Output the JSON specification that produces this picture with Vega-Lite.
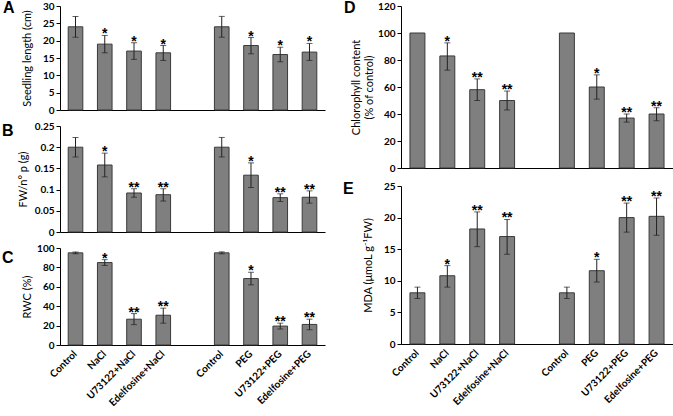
{
  "$schema": "https://vega.github.io/schema/vega-lite/v6.json",
  "background": "white",
  "padding": {"left": 2, "top": 0, "right": 0, "bottom": 0},
  "config": {
    "view": {"stroke": null},
    "font": "Lato",
    "axis": {"grid": false, "labelFont": "Lato", "labelFontWeight": "bold", "labelFontSize": 10, "labelColor": "black", "labelOverlap": false, "labelFlush": false, "labelSeparation": 0, "titleFont": "Lato", "titleFontWeight": "normal", "titleFontSize": 11, "titleColor": "black", "domainColor": "black", "tickColor": "black", "tickSize": 4, "labelPadding": 2},
    "axisY": {"titleBaseline": "middle", "titleAngle": 270},
    "title": {"font": "Liberation Sans", "fontSize": 16, "fontWeight": "bold", "color": "black", "anchor": "start", "frame": "group", "offset": 0, "baseline": "alphabetic"}
  },
  "datasets": {
    "d": [
      {"panel": "A", "slot": 1, "mean": 24, "lo": 21, "hi": 27, "sig": ""},
      {"panel": "A", "slot": 2, "mean": 19, "lo": 16.5, "hi": 21.5, "sig": "*"},
      {"panel": "A", "slot": 3, "mean": 17, "lo": 14.6, "hi": 19.4, "sig": "*"},
      {"panel": "A", "slot": 4, "mean": 16.5, "lo": 14.3, "hi": 18.6, "sig": "*"},
      {"panel": "A", "slot": 6, "mean": 24, "lo": 21, "hi": 27, "sig": ""},
      {"panel": "A", "slot": 7, "mean": 18.6, "lo": 16.2, "hi": 20.9, "sig": "*"},
      {"panel": "A", "slot": 8, "mean": 16, "lo": 13.9, "hi": 18.1, "sig": "*"},
      {"panel": "A", "slot": 9, "mean": 16.7, "lo": 14.3, "hi": 19.2, "sig": "*"},
      {"panel": "B", "slot": 1, "mean": 0.2, "lo": 0.177, "hi": 0.223, "sig": ""},
      {"panel": "B", "slot": 2, "mean": 0.158, "lo": 0.13, "hi": 0.186, "sig": "*"},
      {"panel": "B", "slot": 3, "mean": 0.092, "lo": 0.082, "hi": 0.102, "sig": "**"},
      {"panel": "B", "slot": 4, "mean": 0.088, "lo": 0.073, "hi": 0.102, "sig": "**"},
      {"panel": "B", "slot": 6, "mean": 0.2, "lo": 0.177, "hi": 0.223, "sig": ""},
      {"panel": "B", "slot": 7, "mean": 0.134, "lo": 0.105, "hi": 0.163, "sig": "*"},
      {"panel": "B", "slot": 8, "mean": 0.081, "lo": 0.072, "hi": 0.09, "sig": "**"},
      {"panel": "B", "slot": 9, "mean": 0.082, "lo": 0.068, "hi": 0.097, "sig": "**"},
      {"panel": "C", "slot": 1, "mean": 95, "lo": 94, "hi": 96, "sig": ""},
      {"panel": "C", "slot": 2, "mean": 85, "lo": 82, "hi": 88, "sig": "*"},
      {"panel": "C", "slot": 3, "mean": 26.6, "lo": 21, "hi": 32.4, "sig": "**"},
      {"panel": "C", "slot": 4, "mean": 30.7, "lo": 22.5, "hi": 38, "sig": "**"},
      {"panel": "C", "slot": 6, "mean": 95, "lo": 94, "hi": 96, "sig": ""},
      {"panel": "C", "slot": 7, "mean": 68.5, "lo": 62, "hi": 75, "sig": "*"},
      {"panel": "C", "slot": 8, "mean": 19.5, "lo": 16.5, "hi": 22.5, "sig": "**"},
      {"panel": "C", "slot": 9, "mean": 21.2, "lo": 15.7, "hi": 26.6, "sig": "**"},
      {"panel": "D", "slot": 1, "mean": 100, "lo": null, "hi": null, "sig": ""},
      {"panel": "D", "slot": 2, "mean": 83, "lo": 72.5, "hi": 92.7, "sig": "*"},
      {"panel": "D", "slot": 3, "mean": 58, "lo": 50, "hi": 66, "sig": "**"},
      {"panel": "D", "slot": 4, "mean": 50, "lo": 43, "hi": 57, "sig": "**"},
      {"panel": "D", "slot": 6, "mean": 100, "lo": null, "hi": null, "sig": ""},
      {"panel": "D", "slot": 7, "mean": 60, "lo": 51, "hi": 69, "sig": "*"},
      {"panel": "D", "slot": 8, "mean": 37, "lo": 34, "hi": 40, "sig": "**"},
      {"panel": "D", "slot": 9, "mean": 40, "lo": 35, "hi": 44.7, "sig": "**"},
      {"panel": "E", "slot": 1, "mean": 8.1, "lo": 7.2, "hi": 9.0, "sig": ""},
      {"panel": "E", "slot": 2, "mean": 10.8, "lo": 9.0, "hi": 12.4, "sig": "*"},
      {"panel": "E", "slot": 3, "mean": 18.2, "lo": 15.4, "hi": 20.9, "sig": "**"},
      {"panel": "E", "slot": 4, "mean": 17.0, "lo": 14.2, "hi": 19.7, "sig": "**"},
      {"panel": "E", "slot": 6, "mean": 8.1, "lo": 7.2, "hi": 9.0, "sig": ""},
      {"panel": "E", "slot": 7, "mean": 11.6, "lo": 9.8, "hi": 13.4, "sig": "*"},
      {"panel": "E", "slot": 8, "mean": 20.0, "lo": 17.7, "hi": 22.3, "sig": "**"},
      {"panel": "E", "slot": 9, "mean": 20.2, "lo": 17.2, "hi": 23.1, "sig": "**"}
    ]
  },
  "spacing": 18,
  "hconcat": [
    {
      "bounds": "flush",
      "spacing": 16,
      "vconcat": [
        {
          "width": 265, "height": 104,
          "title": {"text": "A", "dx": -57, "dy": 19},
          "data": {"name": "d"},
          "transform": [{"filter": "datum.panel === 'A'"}],
          "encoding": {
            "x": {"field": "slot", "type": "ordinal", "scale": {"domain": [1,2,3,4,5,6,7,8,9], "paddingInner": 0.5, "paddingOuter": 0.28}, "axis": {"labels": false, "ticks": false, "title": null}},
            "y": {"type": "quantitative", "scale": {"domain": [0, 30], "nice": false}, "axis": {"values": [0,5,10,15,20,25,30], "labelOverlap": false, "title": "Seedling length (cm)", "titleX": -33}}
          },
          "layer": [
            {"mark": {"type": "bar", "color": "#7f7f7f", "stroke": "#3a3a3a", "strokeWidth": 1}, "encoding": {"y": {"field": "mean"}}},
            {"mark": {"type": "rule", "color": "#222"}, "encoding": {"y": {"field": "lo"}, "y2": {"field": "hi"}}},
            {"mark": {"type": "tick", "color": "#222", "size": 6, "thickness": 1}, "encoding": {"y": {"field": "lo"}}},
            {"mark": {"type": "tick", "color": "#222", "size": 6, "thickness": 1}, "encoding": {"y": {"field": "hi"}}},
            {"mark": {"type": "text", "font": "Liberation Sans", "fontSize": 14, "fontWeight": "bold", "baseline": "alphabetic", "dy": 3, "color": "black"}, "encoding": {"y": {"field": "hi"}, "text": {"field": "sig"}}}
          ]
        },
        {
          "width": 265, "height": 106,
          "title": {"text": "B", "dx": -58, "dy": 22},
          "data": {"name": "d"},
          "transform": [{"filter": "datum.panel === 'B'"}],
          "encoding": {
            "x": {"field": "slot", "type": "ordinal", "scale": {"domain": [1,2,3,4,5,6,7,8,9], "paddingInner": 0.5, "paddingOuter": 0.28}, "axis": {"labels": false, "ticks": false, "title": null}},
            "y": {"type": "quantitative", "scale": {"domain": [0, 0.25], "nice": false}, "axis": {"values": [0,0.05,0.1,0.15,0.2,0.25], "labelOverlap": false, "format": ".2~f", "title": "FW/n°  p (g)", "titleX": -37}}
          },
          "layer": [
            {"mark": {"type": "bar", "color": "#7f7f7f", "stroke": "#3a3a3a", "strokeWidth": 1}, "encoding": {"y": {"field": "mean"}}},
            {"mark": {"type": "rule", "color": "#222"}, "encoding": {"y": {"field": "lo"}, "y2": {"field": "hi"}}},
            {"mark": {"type": "tick", "color": "#222", "size": 6, "thickness": 1}, "encoding": {"y": {"field": "lo"}}},
            {"mark": {"type": "tick", "color": "#222", "size": 6, "thickness": 1}, "encoding": {"y": {"field": "hi"}}},
            {"mark": {"type": "text", "font": "Liberation Sans", "fontSize": 14, "fontWeight": "bold", "baseline": "alphabetic", "dy": 3, "color": "black"}, "encoding": {"y": {"field": "hi"}, "text": {"field": "sig"}}}
          ]
        },
        {
          "width": 265, "height": 97,
          "title": {"text": "C", "dx": -58, "dy": 27},
          "data": {"name": "d"},
          "transform": [{"filter": "datum.panel === 'C'"}],
          "encoding": {
            "x": {"field": "slot", "type": "ordinal", "scale": {"domain": [1,2,3,4,5,6,7,8,9], "paddingInner": 0.5, "paddingOuter": 0.28}, "axis": {"ticks": false, "title": null, "labelAngle": -45, "labelAlign": "right", "labelBaseline": "middle", "labelPadding": 7, "labelExpr": "['','Control','NaCl','U73122+NaCl','Edelfosine+NaCl','','Control','PEG','U73122+PEG','Edelfosine+PEG'][datum.value]"}},
            "y": {"type": "quantitative", "scale": {"domain": [0, 100], "nice": false}, "axis": {"values": [0,20,40,60,80,100], "labelOverlap": false, "title": "RWC (%)", "titleX": -33}}
          },
          "layer": [
            {"mark": {"type": "bar", "color": "#7f7f7f", "stroke": "#3a3a3a", "strokeWidth": 1}, "encoding": {"y": {"field": "mean"}}},
            {"mark": {"type": "rule", "color": "#222"}, "encoding": {"y": {"field": "lo"}, "y2": {"field": "hi"}}},
            {"mark": {"type": "tick", "color": "#222", "size": 6, "thickness": 1}, "encoding": {"y": {"field": "lo"}}},
            {"mark": {"type": "tick", "color": "#222", "size": 6, "thickness": 1}, "encoding": {"y": {"field": "hi"}}},
            {"mark": {"type": "text", "font": "Liberation Sans", "fontSize": 14, "fontWeight": "bold", "baseline": "alphabetic", "dy": 3, "color": "black"}, "encoding": {"y": {"field": "hi"}, "text": {"field": "sig"}}}
          ]
        }
      ]
    },
    {
      "bounds": "flush",
      "spacing": 18,
      "vconcat": [
        {
          "width": 272, "height": 162,
          "title": {"text": "D", "dx": -57, "dy": 19},
          "data": {"name": "d"},
          "transform": [{"filter": "datum.panel === 'D'"}],
          "encoding": {
            "x": {"field": "slot", "type": "ordinal", "scale": {"domain": [1,2,3,4,5,6,7,8,9], "paddingInner": 0.5, "paddingOuter": 0.3}, "axis": {"labels": false, "ticks": false, "title": null}},
            "y": {"type": "quantitative", "scale": {"domain": [0, 120], "nice": false}, "axis": {"values": [0,20,40,60,80,100,120], "labelOverlap": false, "title": ["Chlorophyll content", "(% of control)"], "titleX": -45}}
          },
          "layer": [
            {"mark": {"type": "bar", "color": "#7f7f7f", "stroke": "#3a3a3a", "strokeWidth": 1}, "encoding": {"y": {"field": "mean"}}},
            {"mark": {"type": "rule", "color": "#222"}, "encoding": {"y": {"field": "lo"}, "y2": {"field": "hi"}}},
            {"mark": {"type": "tick", "color": "#222", "size": 6, "thickness": 1}, "encoding": {"y": {"field": "lo"}}},
            {"mark": {"type": "tick", "color": "#222", "size": 6, "thickness": 1}, "encoding": {"y": {"field": "hi"}}},
            {"mark": {"type": "text", "font": "Liberation Sans", "fontSize": 14, "fontWeight": "bold", "baseline": "alphabetic", "dy": 3, "color": "black"}, "encoding": {"y": {"field": "hi"}, "text": {"field": "sig"}}}
          ]
        },
        {
          "width": 272, "height": 158,
          "title": {"text": "E", "dx": -58, "dy": 20},
          "data": {"name": "d"},
          "transform": [{"filter": "datum.panel === 'E'"}],
          "encoding": {
            "x": {"field": "slot", "type": "ordinal", "scale": {"domain": [1,2,3,4,5,6,7,8,9], "paddingInner": 0.5, "paddingOuter": 0.3}, "axis": {"ticks": false, "title": null, "labelAngle": -45, "labelAlign": "right", "labelBaseline": "middle", "labelPadding": 7, "labelExpr": "['','Control','NaCl','U73122+NaCl','Edelfosine+NaCl','','Control','PEG','U73122+PEG','Edelfosine+PEG'][datum.value]"}},
            "y": {"type": "quantitative", "scale": {"domain": [0, 25], "nice": false}, "axis": {"values": [0,5,10,15,20,25], "labelOverlap": false, "title": "MDA (μmoL g⁻¹FW)", "titleX": -33}}
          },
          "layer": [
            {"mark": {"type": "bar", "color": "#7f7f7f", "stroke": "#3a3a3a", "strokeWidth": 1}, "encoding": {"y": {"field": "mean"}}},
            {"mark": {"type": "rule", "color": "#222"}, "encoding": {"y": {"field": "lo"}, "y2": {"field": "hi"}}},
            {"mark": {"type": "tick", "color": "#222", "size": 6, "thickness": 1}, "encoding": {"y": {"field": "lo"}}},
            {"mark": {"type": "tick", "color": "#222", "size": 6, "thickness": 1}, "encoding": {"y": {"field": "hi"}}},
            {"mark": {"type": "text", "font": "Liberation Sans", "fontSize": 14, "fontWeight": "bold", "baseline": "alphabetic", "dy": 3, "color": "black"}, "encoding": {"y": {"field": "hi"}, "text": {"field": "sig"}}}
          ]
        }
      ]
    }
  ]
}
